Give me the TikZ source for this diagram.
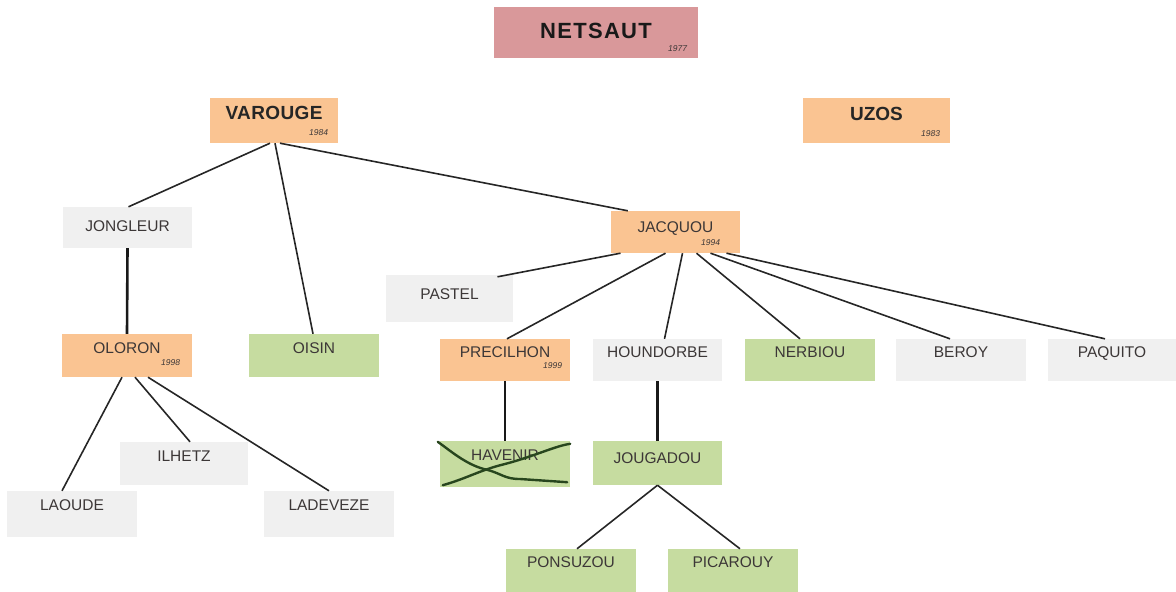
\documentclass[tikz,border=0pt]{standalone}
\usepackage{fontspec}
\setmainfont{Liberation Sans}
\definecolor{pinkbox}{RGB}{217,152,154}
\definecolor{orangebox}{RGB}{250,196,146}
\definecolor{graybox}{RGB}{240,240,240}
\definecolor{greenbox}{RGB}{198,220,160}
\definecolor{scribble}{RGB}{40,70,30}
\definecolor{txt}{RGB}{60,55,55}
\tikzset{
  box/.style={rectangle, inner sep=0pt, minimum width=129pt, minimum height=43pt,
    font=\fontsize{15.5}{17}\selectfont, text=txt, text height=11pt, text depth=16pt},
  gbox/.style={box, fill=graybox},
  obox/.style={box, fill=orangebox},
  grbox/.style={box, fill=greenbox},
  yr/.style={inner sep=0pt, anchor=east, font=\fontsize{8.5}{9}\selectfont\itshape, text=txt},
  conn/.style={line width=1.6pt, black!85},
  vconn/.style={line width=2.6pt, black!90},
}
\begin{document}
\begin{tikzpicture}[x=1pt,y=-1pt]
\useasboundingbox (0,0) rectangle (1176,592);
\clip (0,0) rectangle (1176,592);
% top
\node[box, fill=pinkbox, minimum width=204pt, minimum height=51pt, font=\fontsize{22}{24}\bfseries\addfontfeature{LetterSpace=6}, text=black!90, text height=16pt, text depth=4pt] (net) at (596,32.5) {NETSAUT};
\node[yr] (nety) at ([xshift=-11pt,yshift=10pt]net.south east) {1977};
\node[obox, minimum width=128pt, minimum height=45pt, font=\fontsize{19}{20}\bfseries\addfontfeature{LetterSpace=2}, text=black!85, text height=13pt, text depth=15pt] (var) at (274,120.5) {VAROUGE};
\node[yr] (vary) at ([xshift=-10pt,yshift=11pt]var.south east) {1984};
\node[obox, minimum width=147pt, minimum height=45pt, font=\fontsize{19}{20}\bfseries, text=black!85, text height=13pt, text depth=13pt] (uzo) at (876.5,120.5) {UZOS};
\node[yr] (uzoy) at ([xshift=-10pt,yshift=10pt]uzo.south east) {1983};
% level 2
\node[gbox, minimum height=41pt, text depth=4pt] (jon) at (127.5,227.5) {JONGLEUR};
\node[obox, minimum height=42pt, text depth=10pt] (jac) at (675.5,232) {JACQUOU};
\node[yr] (jacy) at ([xshift=-20pt,yshift=11pt]jac.south east) {1994};
\node[gbox, minimum width=127pt, minimum height=47pt, text depth=10pt] (pas) at (449.5,298.5) {PASTEL};
% level 3
\node[obox, minimum width=130pt] (olo) at (127,355.5) {OLORON};
\node[yr] (oloy) at ([xshift=-12pt,yshift=15pt]olo.south east) {1998};
\node[grbox, minimum width=130pt] (ois) at (314,355.5) {OISIN};
\node[obox, minimum width=130pt, minimum height=42pt] (pre) at (505,360) {PRECILHON};
\node[yr] (prey) at ([xshift=-8pt,yshift=16pt]pre.south east) {1999};
\node[gbox, minimum height=42pt] (hou) at (657.5,360) {HOUNDORBE};
\node[grbox, minimum width=130pt, minimum height=42pt] (ner) at (810,360) {NERBIOU};
\node[gbox, minimum width=130pt, minimum height=42pt] (ber) at (961,360) {BEROY};
\node[gbox, minimum width=128pt, minimum height=42pt] (paq) at (1112,360) {PAQUITO};
% level 4
\node[gbox, minimum width=128pt] (ilh) at (184,463.5) {ILHETZ};
\node[gbox, minimum width=130pt, minimum height=46pt, text depth=18pt] (lao) at (72,514) {LAOUDE};
\node[gbox, minimum width=130pt, minimum height=46pt, text depth=18pt] (lad) at (329,514) {LADEVEZE};
\node[grbox, minimum width=130pt, minimum height=46pt, text depth=18pt] (hav) at (505,464) {HAVENIR};
\node[grbox, minimum height=44pt, text depth=11pt] (jou) at (657.5,463) {JOUGADOU};
% level 5
\node[grbox, minimum width=130pt, minimum height=52pt, text depth=26pt] (pon) at (571,575) {PONSUZOU};
\node[grbox, minimum width=130pt, minimum height=52pt, text depth=26pt] (pic) at (733,575) {PICAROUY};
% scribble over HAVENIR
\draw[scribble, line width=2.4pt, line cap=round]
  ([xshift=-2pt,yshift=-1pt]hav.north west) .. controls (452,452) and (468,466) .. (488,470)
  .. controls (502,474) and (505,479) .. (520,479) -- ([xshift=-3pt,yshift=5pt]hav.south east);
\draw[scribble, line width=2.4pt, line cap=round]
  ([xshift=3pt,yshift=2pt]hav.south west) .. controls (468,478) and (480,470) .. (505,464)
  .. controls (535,456) and (555,446) .. ([xshift=0pt,yshift=-3pt]hav.north east);
% connectors
\draw[conn] ([xshift=-4pt]var.south) -- ([xshift=1pt]jon.north);
\draw[conn] ([xshift=1pt]var.south) -- ([xshift=-1pt]ois.north);
\draw[conn] ([xshift=6pt]var.south) -- ([xshift=17pt]jac.north west);
\draw[vconn] (jon.south) -- (olo.north);
\draw[conn] ([xshift=-5pt]olo.south) -- ([xshift=-10pt]lao.north);
\draw[conn] ([xshift=8pt]olo.south) -- ([xshift=6pt]ilh.north);
\draw[conn] ([xshift=21pt]olo.south) -- (lad.north);
\draw[conn] ([xshift=-55pt]jac.south) -- ([xshift=48pt,yshift=-2pt]pas.north);
\draw[conn] ([xshift=-10pt]jac.south) -- ([xshift=2pt]pre.north);
\draw[conn] ([xshift=7pt]jac.south) -- ([xshift=7pt]hou.north);
\draw[conn] ([xshift=21pt]jac.south) -- ([xshift=-10pt]ner.north);
\draw[conn] ([xshift=35pt]jac.south) -- ([xshift=-11pt]ber.north);
\draw[conn] ([xshift=51pt]jac.south) -- ([xshift=-7pt]paq.north);
\draw[vconn] (pre.south) -- (hav.north);
\draw[vconn] (hou.south) -- (jou.north);
\draw[conn] (jou.south) -- ([xshift=6pt]pon.north);
\draw[conn] (jou.south) -- ([xshift=7pt]pic.north);
\end{tikzpicture}
\end{document}
